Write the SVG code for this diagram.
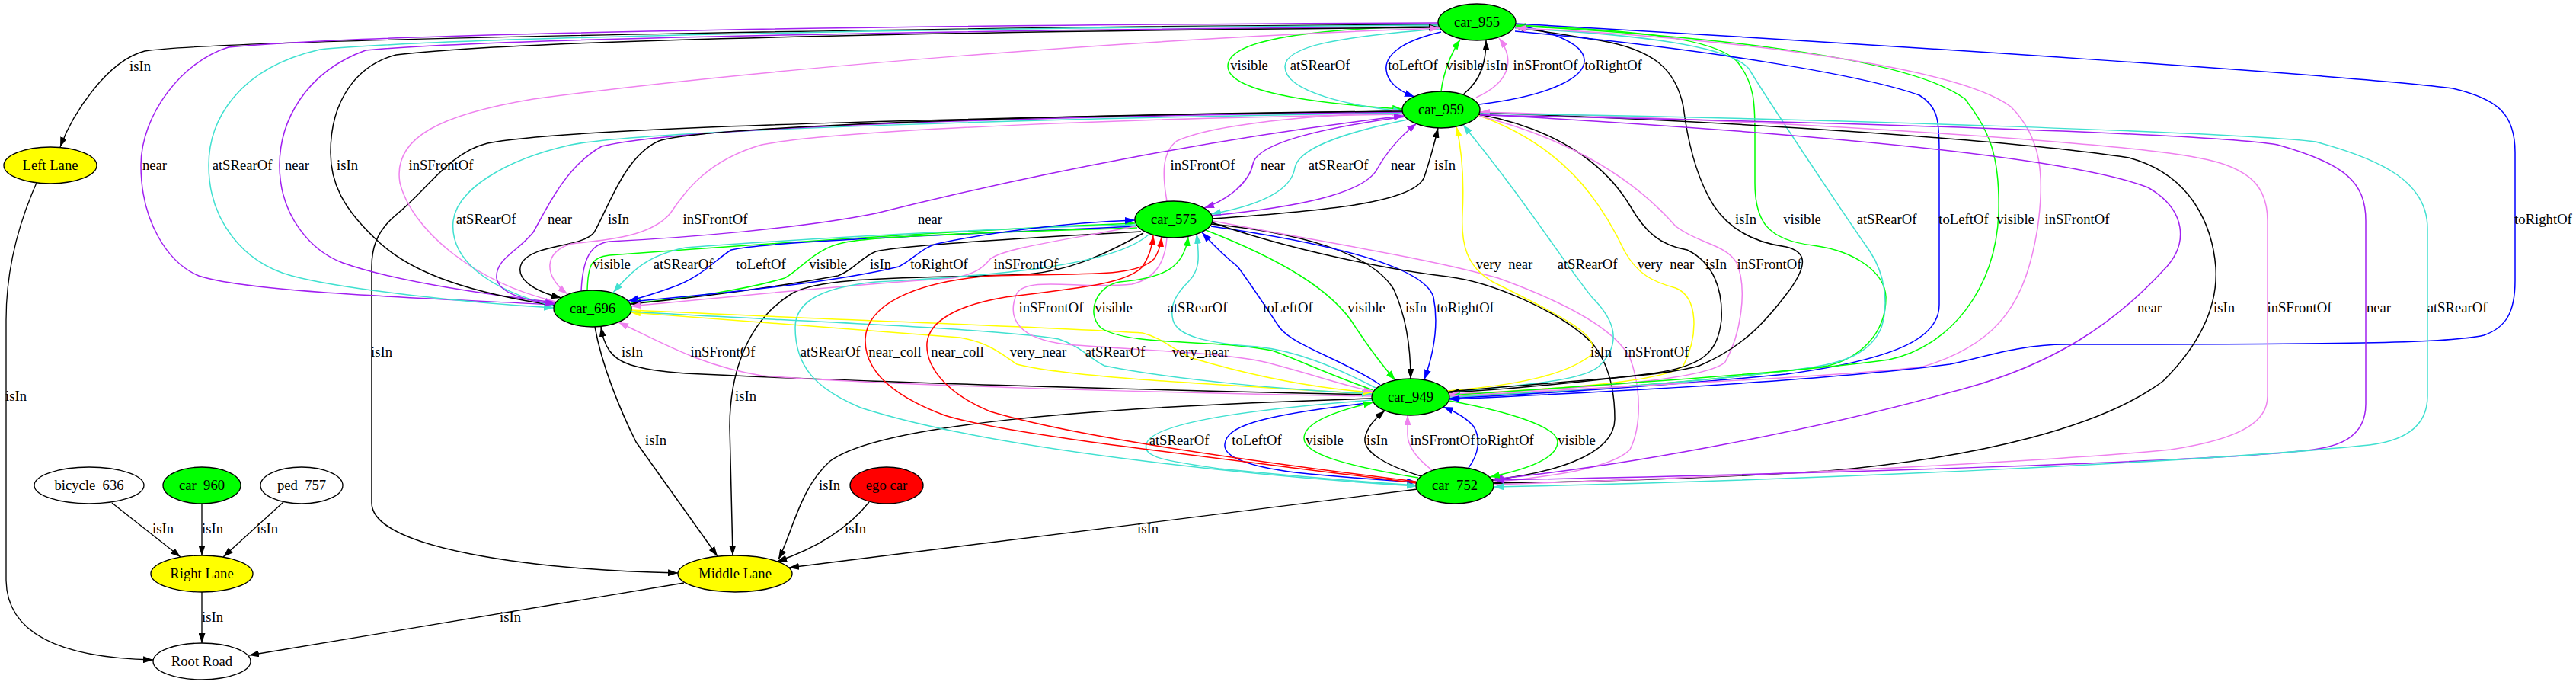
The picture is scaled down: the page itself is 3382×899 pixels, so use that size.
<svg xmlns="http://www.w3.org/2000/svg" width="3382" height="899" viewBox="0 0 3382 899">
<style>
.e{fill:none;stroke-width:1.5}
.l{stroke-width:1.33}
.k{stroke:#000;marker-end:url(#mk)}
.g{stroke:#00ff00;marker-end:url(#mg)}
.b{stroke:#0000ff;marker-end:url(#mb)}
.t{stroke:#40e0d0;marker-end:url(#mt)}
.v{stroke:#ee82ee;marker-end:url(#mv)}
.p{stroke:#a020f0;marker-end:url(#mp)}
.y{stroke:#ffff00;marker-end:url(#my)}
.r{stroke:#ff0000;marker-end:url(#mr)}
.n{stroke:#000;stroke-width:1.33}
.tx{font-family:"Liberation Serif","Times New Roman",serif;font-size:18.67px;text-anchor:middle;fill:#000}
</style>
<defs>
<marker id="mk" viewBox="0 0 13 9" refX="13" refY="4.5" markerWidth="13" markerHeight="9" markerUnits="userSpaceOnUse" orient="auto"><path d="M0,0 L13,4.5 L0,9 z" fill="#000"/></marker>
<marker id="mg" viewBox="0 0 13 9" refX="13" refY="4.5" markerWidth="13" markerHeight="9" markerUnits="userSpaceOnUse" orient="auto"><path d="M0,0 L13,4.5 L0,9 z" fill="#00ff00"/></marker>
<marker id="mb" viewBox="0 0 13 9" refX="13" refY="4.5" markerWidth="13" markerHeight="9" markerUnits="userSpaceOnUse" orient="auto"><path d="M0,0 L13,4.5 L0,9 z" fill="#0000ff"/></marker>
<marker id="mt" viewBox="0 0 13 9" refX="13" refY="4.5" markerWidth="13" markerHeight="9" markerUnits="userSpaceOnUse" orient="auto"><path d="M0,0 L13,4.5 L0,9 z" fill="#40e0d0"/></marker>
<marker id="mv" viewBox="0 0 13 9" refX="13" refY="4.5" markerWidth="13" markerHeight="9" markerUnits="userSpaceOnUse" orient="auto"><path d="M0,0 L13,4.5 L0,9 z" fill="#ee82ee"/></marker>
<marker id="mp" viewBox="0 0 13 9" refX="13" refY="4.5" markerWidth="13" markerHeight="9" markerUnits="userSpaceOnUse" orient="auto"><path d="M0,0 L13,4.5 L0,9 z" fill="#a020f0"/></marker>
<marker id="my" viewBox="0 0 13 9" refX="13" refY="4.5" markerWidth="13" markerHeight="9" markerUnits="userSpaceOnUse" orient="auto"><path d="M0,0 L13,4.5 L0,9 z" fill="#ffff00"/></marker>
<marker id="mr" viewBox="0 0 13 9" refX="13" refY="4.5" markerWidth="13" markerHeight="9" markerUnits="userSpaceOnUse" orient="auto"><path d="M0,0 L13,4.5 L0,9 z" fill="#ff0000"/></marker>
</defs>
<rect width="3382" height="899" fill="#fff"/>
<g id="edges">
<path class="e l k" d="M48,240 Q8,330 8,420 L8,760 Q8,862 201,866"/>
<path class="e l k" d="M1888,32 C1400,34 300,50 190,67 C140,80 95,150 79,193"/>
<path class="e l k" d="M147,660 L237,731"/>
<path class="e l k" d="M265,661 L265,729"/>
<path class="e l k" d="M372,659 L293,731"/>
<path class="e l k" d="M265,777 L265,844"/>
<path class="e l k" d="M898,765 L327,860"/>
<path class="e l k" d="M1141,659 Q1100,710 1020,737"/>
<path class="e l k" d="M1861,642 L1036,745"/>
<path class="e k" d="M1801,523 C1400,535 1150,560 1090,605 C1050,640 1040,700 1022,734"/>
<path class="e k" d="M1501,306 C1440,340 1400,355 1350,360 C1200,366 1080,362 1040,385 C975,425 958,500 958,560 L962,729"/>
<path class="e k" d="M781,429 C790,480 815,540 835,580 L942,730"/>
<path class="e k" d="M1841,146 C1400,152 750,165 640,188 C590,200 560,250 520,282 C492,305 488,330 488,350 L488,660 C488,720 700,748 890,752"/>
<path class="e g" d="M1889,34 C1700,38 1612,55 1612,87 C1612,125 1760,138 1841,143"/>
<path class="e t" d="M1890,38 C1760,48 1688,60 1687,87 C1686,122 1780,140 1842,146"/>
<path class="e b" d="M1892,42 C1835,55 1818,75 1820,92 C1822,110 1838,120 1857,127"/>
<path class="e g" d="M1892,120 C1895,95 1905,70 1917,52"/>
<path class="e k" d="M1922,123 C1945,105 1951,80 1951,53"/>
<path class="e v" d="M1938,128 C1978,110 1992,82 1968,50"/>
<path class="e b" d="M1942,137 C2040,125 2082,100 2080,78 C2078,55 2030,40 1991,33"/>
<path class="e v" d="M1532,264 C1526,230 1525,200 1545,185 C1600,160 1750,150 1841,147"/>
<path class="e p" d="M1845,153 C1720,170 1650,190 1645,215 C1640,240 1612,262 1581,273"/>
<path class="e t" d="M1848,157 C1760,175 1705,195 1700,220 C1695,255 1640,272 1590,281"/>
<path class="e p" d="M1591,283 C1700,272 1790,255 1808,222 C1822,197 1842,176 1860,162"/>
<path class="e k" d="M1591,287 C1750,276 1858,265 1870,232 C1878,208 1884,185 1888,168"/>
<path class="e p" d="M1888,30 C1300,32 500,42 300,62 C240,80 185,150 185,217 C185,290 220,345 261,362 C330,385 600,393 728,400"/>
<path class="e t" d="M1888,33 C1300,36 600,48 420,65 C310,90 274,160 274,217 C274,290 320,345 383,362 C450,380 620,398 727,404"/>
<path class="e p" d="M1888,35 C1300,39 650,50 480,66 C400,95 367,160 367,217 C367,285 410,330 450,345 C520,370 650,388 729,397"/>
<path class="e k" d="M729,401 C620,385 545,360 500,320 C450,275 434,240 434,200 C434,130 470,85 520,72 C700,50 1400,40 1889,36"/>
<path class="e v" d="M730,396 C620,370 540,300 525,240 C515,180 580,150 700,130 C1000,90 1500,50 1890,37"/>
<path class="e t" d="M1842,148 C1400,155 850,170 750,190 C660,210 600,250 595,290 C590,340 640,380 728,402"/>
<path class="e p" d="M1842,147 C1400,152 900,165 790,192 C740,220 715,280 700,305 C680,330 650,340 652,365 C655,385 690,395 729,399"/>
<path class="e k" d="M1842,146 C1400,150 930,165 865,185 C820,205 800,270 780,305 C765,325 700,320 685,345 C675,365 700,382 737,391"/>
<path class="e v" d="M1842,150 C1500,155 1100,170 1000,190 C930,210 900,250 880,280 C855,310 800,315 750,320 C715,330 712,360 745,386"/>
<path class="e p" d="M763,382 C765,340 775,320 800,317 C900,312 1050,300 1150,280 C1350,230 1600,180 1843,152"/>
<path class="e g" d="M771,381 C772,350 775,338 800,335 C1000,320 1300,300 1490,293"/>
<path class="e t" d="M1491,295 C1350,298 1100,310 900,325 C850,335 830,355 805,384"/>
<path class="e b" d="M1492,297 C1200,310 1000,318 960,328 C940,340 920,365 880,378 C860,385 845,390 825,395"/>
<path class="e g" d="M1493,299 C1300,305 1150,310 1110,318 C1070,325 1050,355 1030,365 C980,380 900,392 828,398"/>
<path class="e k" d="M1498,304 C1350,312 1180,322 1150,330 C1130,338 1120,355 1100,362 C1000,380 900,392 828,399"/>
<path class="e b" d="M828,396 C950,385 1100,370 1180,350 C1200,340 1210,325 1230,320 C1300,305 1400,292 1490,289"/>
<path class="e v" d="M1491,297 C1400,315 1320,325 1300,340 C1290,352 1280,360 1250,365 C1100,375 950,390 828,402"/>
<path class="e k" d="M1801,518 C1500,512 1100,500 900,490 C830,485 810,475 800,460 C793,450 791,440 789,429"/>
<path class="e v" d="M1801,520 C1500,515 1150,505 1000,493 C920,480 870,450 812,423"/>
<path class="e y" d="M1801,517 C1600,505 1400,495 1335,478 C1315,465 1300,450 1260,443 C1100,430 950,418 828,410"/>
<path class="e t" d="M829,409 C1000,420 1300,430 1390,445 C1420,455 1430,470 1450,480 C1550,500 1700,512 1801,517"/>
<path class="e y" d="M829,407 C1100,420 1400,430 1500,437 C1530,445 1540,460 1565,470 C1650,495 1730,510 1802,515"/>
<path class="e v" d="M1532,312 C1530,340 1520,365 1486,373 C1420,380 1350,362 1335,385 C1320,420 1340,445 1400,452 C1500,460 1600,462 1660,475 C1720,490 1760,505 1803,514"/>
<path class="e g" d="M1803,512 C1740,490 1700,470 1670,460 C1600,445 1480,455 1445,430 C1425,410 1440,375 1470,370 C1530,365 1555,350 1560,310"/>
<path class="e t" d="M1806,509 C1750,480 1700,460 1650,455 C1580,450 1545,440 1540,420 C1535,400 1545,385 1560,370 C1575,355 1575,340 1571,307"/>
<path class="e b" d="M1812,505 C1760,470 1700,455 1680,430 C1660,400 1640,370 1625,350 C1600,330 1590,318 1578,305"/>
<path class="e g" d="M1583,302 C1680,340 1750,380 1780,430 C1800,460 1815,480 1832,499"/>
<path class="e k" d="M1590,294 C1700,305 1800,330 1830,380 C1848,420 1852,460 1852,497"/>
<path class="e b" d="M1590,297 C1750,320 1870,350 1882,390 C1890,430 1880,470 1870,498"/>
<path class="e k" d="M1591,292 C1700,330 1830,355 1900,363 C1960,370 2050,410 2090,450 C2115,480 2120,520 2120,550 C2120,600 2030,622 1958,630"/>
<path class="e v" d="M1592,290 C1750,320 1880,340 1967,365 C2050,395 2120,430 2140,470 C2155,510 2155,560 2140,590 C2110,620 2000,628 1960,633"/>
<path class="e y" d="M1900,513 C2000,505 2060,490 2090,465 C2100,440 2060,420 1960,370 C1925,350 1918,320 1920,280 C1922,240 1920,200 1912,166"/>
<path class="e t" d="M1901,515 C2000,505 2080,500 2100,480 C2130,450 2120,420 2090,390 C2050,340 2000,260 1921,164"/>
<path class="e y" d="M1940,151 C2050,190 2100,260 2133,330 C2150,360 2170,370 2200,378 C2230,390 2230,440 2210,480 C2180,505 2000,512 1902,518"/>
<path class="e k" d="M1941,150 C2050,170 2110,220 2140,270 C2160,305 2180,322 2215,328 C2250,345 2262,380 2260,420 C2255,460 2240,480 2170,490 C2050,505 1960,512 1903,515"/>
<path class="e v" d="M1942,152 C2070,185 2150,240 2200,297 C2230,320 2265,320 2280,345 C2295,380 2285,440 2265,475 C2240,500 2050,512 1903,517"/>
<path class="e k" d="M1903,514 C2050,500 2180,495 2231,480 C2290,455 2320,420 2350,380 C2375,345 2370,330 2345,324 C2300,318 2270,300 2250,270 C2225,230 2215,180 2210,140 C2200,90 2170,65 2100,53 C2050,45 2020,40 1989,36"/>
<path class="e g" d="M1989,33 C2150,40 2250,50 2280,80 C2305,110 2304,140 2304,180 L2304,240 C2304,290 2320,315 2380,322 C2440,330 2475,360 2476,390 C2476,440 2440,470 2400,480 C2250,500 2050,515 1904,520"/>
<path class="e t" d="M1989,37 C2150,45 2270,60 2296,90 C2320,130 2420,280 2455,330 C2475,360 2480,400 2470,430 C2455,465 2420,475 2380,482 C2250,500 2050,515 1904,521"/>
<path class="e b" d="M1989,41 C2250,65 2450,100 2520,125 C2545,140 2546,160 2546,200 L2546,400 C2546,440 2500,470 2345,491 C2200,505 2050,515 1903,523"/>
<path class="e g" d="M1903,519 C2100,505 2350,490 2480,472 C2560,455 2620,380 2624,280 C2626,200 2610,170 2580,130 C2500,70 2200,45 1990,34"/>
<path class="e v" d="M1903,520 C2150,506 2450,492 2525,481 C2630,450 2660,390 2675,300 C2685,230 2680,180 2640,140 C2560,80 2200,45 1990,37"/>
<path class="e b" d="M1990,31 C2500,60 3100,100 3220,116 C3280,130 3302,150 3302,200 L3302,368 C3302,410 3290,430 3261,440 C3220,450 3100,452 2713,452 C2650,452 2600,470 2560,478 C2400,500 2100,515 1903,524"/>
<path class="e p" d="M1943,150 C2300,170 2700,200 2820,246 C2870,275 2875,320 2840,355 C2780,420 2700,480 2560,515 C2400,560 2150,610 1960,629"/>
<path class="e k" d="M1943,148 C2300,160 2650,185 2795,207 C2880,230 2905,300 2909,351 C2912,400 2890,450 2840,500 C2760,560 2600,600 2400,618 C2200,630 2050,633 1960,634"/>
<path class="e v" d="M1961,636 C2300,625 2700,605 2850,590 C2950,575 2977,550 2977,520 L2977,290 C2977,250 2960,220 2885,207 C2800,190 2400,160 1943,147"/>
<path class="e p" d="M1943,151 C2400,160 2900,175 2990,190 C3080,215 3106,240 3106,290 L3106,530 C3106,575 3070,588 3020,592 C2900,605 2400,622 1961,630"/>
<path class="e t" d="M1943,149 C2400,155 2950,175 3040,186 C3130,210 3187,240 3187,300 L3187,520 C3187,570 3140,582 3100,585 C2900,605 2400,630 1961,639"/>
<path class="e t" d="M1802,525 C1600,540 1510,560 1505,583 C1500,600 1530,605 1600,615 C1700,625 1800,633 1860,637"/>
<path class="e b" d="M1803,528 C1650,545 1610,560 1608,583 C1606,600 1640,612 1700,620 C1780,628 1820,630 1860,633"/>
<path class="e g" d="M1862,627 C1760,610 1712,595 1712,575 C1712,555 1750,540 1803,528"/>
<path class="e k" d="M1866,625 C1810,608 1790,590 1792,575 C1795,560 1805,550 1818,539"/>
<path class="e v" d="M1880,617 C1858,600 1848,585 1848,570 C1848,562 1848,555 1848,545"/>
<path class="e b" d="M1928,614 C1942,595 1944,575 1935,560 C1925,548 1910,540 1895,534"/>
<path class="e g" d="M1903,526 C1980,540 2045,560 2045,580 C2045,600 2010,615 1956,626"/>
<path class="e r" d="M1859,634 C1550,595 1320,570 1240,545 C1160,515 1135,480 1136,445 C1138,400 1200,370 1300,362 C1420,358 1490,365 1515,340 C1522,330 1524,320 1525,311"/>
<path class="e r" d="M1859,632 C1600,600 1400,570 1300,540 C1240,515 1215,480 1217,450 C1220,420 1260,400 1320,390 C1420,378 1480,372 1500,350 C1510,335 1513,322 1514,309"/>
<path class="e t" d="M1508,308 C1460,350 1300,362 1150,370 C1070,378 1044,400 1044,430 C1044,480 1070,510 1130,535 C1300,590 1650,625 1860,638"/>
</g>
<g id="edge-labels" class="tx">
<text x="21" y="526">isIn</text>
<text x="184" y="93">isIn</text>
<text x="214" y="700">isIn</text>
<text x="279" y="700">isIn</text>
<text x="351" y="700">isIn</text>
<text x="279" y="816">isIn</text>
<text x="670" y="816">isIn</text>
<text x="1123" y="700">isIn</text>
<text x="1507" y="700">isIn</text>
<text x="1089" y="643">isIn</text>
<text x="979" y="526">isIn</text>
<text x="861" y="584">isIn</text>
<text x="501" y="468">isIn</text>
<text x="1640" y="92">visible</text>
<text x="1733" y="92">atSRearOf</text>
<text x="1855" y="92">toLeftOf</text>
<text x="1923" y="92">visible</text>
<text x="1965" y="92">isIn</text>
<text x="2029" y="92">inSFrontOf</text>
<text x="2118" y="92">toRightOf</text>
<text x="1579" y="223">inSFrontOf</text>
<text x="1671" y="223">near</text>
<text x="1757" y="223">atSRearOf</text>
<text x="1842" y="223">near</text>
<text x="1897" y="223">isIn</text>
<text x="203" y="223">near</text>
<text x="318" y="223">atSRearOf</text>
<text x="390" y="223">near</text>
<text x="456" y="223">isIn</text>
<text x="579" y="223">inSFrontOf</text>
<text x="638" y="294">atSRearOf</text>
<text x="735" y="294">near</text>
<text x="812" y="294">isIn</text>
<text x="939" y="294">inSFrontOf</text>
<text x="1221" y="294">near</text>
<text x="803" y="353">visible</text>
<text x="897" y="353">atSRearOf</text>
<text x="999" y="353">toLeftOf</text>
<text x="1087" y="353">visible</text>
<text x="1156" y="353">isIn</text>
<text x="1233" y="353">toRightOf</text>
<text x="1347" y="353">inSFrontOf</text>
<text x="830" y="468">isIn</text>
<text x="949" y="468">inSFrontOf</text>
<text x="1090" y="468">atSRearOf</text>
<text x="1175" y="468">near_coll</text>
<text x="1257" y="468">near_coll</text>
<text x="1363" y="468">very_near</text>
<text x="1464" y="468">atSRearOf</text>
<text x="1576" y="468">very_near</text>
<text x="1380" y="410">inSFrontOf</text>
<text x="1462" y="410">visible</text>
<text x="1572" y="410">atSRearOf</text>
<text x="1691" y="410">toLeftOf</text>
<text x="1794" y="410">visible</text>
<text x="1859" y="410">isIn</text>
<text x="1924" y="410">toRightOf</text>
<text x="2102" y="468">isIn</text>
<text x="2175" y="468">inSFrontOf</text>
<text x="1975" y="353">very_near</text>
<text x="2084" y="353">atSRearOf</text>
<text x="2187" y="353">very_near</text>
<text x="2253" y="353">isIn</text>
<text x="2323" y="353">inSFrontOf</text>
<text x="2292" y="294">isIn</text>
<text x="2366" y="294">visible</text>
<text x="2477" y="294">atSRearOf</text>
<text x="2578" y="294">toLeftOf</text>
<text x="2646" y="294">visible</text>
<text x="2727" y="294">inSFrontOf</text>
<text x="3339" y="294">toRightOf</text>
<text x="2822" y="410">near</text>
<text x="2920" y="410">isIn</text>
<text x="3019" y="410">inSFrontOf</text>
<text x="3123" y="410">near</text>
<text x="3226" y="410">atSRearOf</text>
<text x="1548" y="584">atSRearOf</text>
<text x="1650" y="584">toLeftOf</text>
<text x="1739" y="584">visible</text>
<text x="1808" y="584">isIn</text>
<text x="1894" y="584">inSFrontOf</text>
<text x="1976" y="584">toRightOf</text>
<text x="2070" y="584">visible</text>
</g>
<g id="node-car_955"><ellipse class="n" cx="1939" cy="29" rx="51" ry="24" fill="#00ff00"/><text class="tx" x="1939" y="35">car_955</text></g>
<g id="node-car_959"><ellipse class="n" cx="1892" cy="144" rx="51" ry="24" fill="#00ff00"/><text class="tx" x="1892" y="150">car_959</text></g>
<g id="node-car_575"><ellipse class="n" cx="1541" cy="288" rx="51" ry="24" fill="#00ff00"/><text class="tx" x="1541" y="294">car_575</text></g>
<g id="node-car_696"><ellipse class="n" cx="778" cy="405" rx="51" ry="24" fill="#00ff00"/><text class="tx" x="778" y="411">car_696</text></g>
<g id="node-car_949"><ellipse class="n" cx="1852" cy="521" rx="51" ry="24" fill="#00ff00"/><text class="tx" x="1852" y="527">car_949</text></g>
<g id="node-car_752"><ellipse class="n" cx="1910" cy="637" rx="51" ry="24" fill="#00ff00"/><text class="tx" x="1910" y="643">car_752</text></g>
<g id="node-left_lane"><ellipse class="n" cx="66" cy="217" rx="61" ry="24" fill="#ffff00"/><text class="tx" x="66" y="223">Left Lane</text></g>
<g id="node-middle_lane"><ellipse class="n" cx="965" cy="753" rx="75" ry="24" fill="#ffff00"/><text class="tx" x="965" y="759">Middle Lane</text></g>
<g id="node-right_lane"><ellipse class="n" cx="265" cy="753" rx="67" ry="24" fill="#ffff00"/><text class="tx" x="265" y="759">Right Lane</text></g>
<g id="node-root_road"><ellipse class="n" cx="265" cy="868" rx="64" ry="24" fill="#fff"/><text class="tx" x="265" y="874">Root Road</text></g>
<g id="node-bicycle_636"><ellipse class="n" cx="117" cy="637" rx="72" ry="24" fill="#fff"/><text class="tx" x="117" y="643">bicycle_636</text></g>
<g id="node-car_960"><ellipse class="n" cx="265" cy="637" rx="51" ry="24" fill="#00ff00"/><text class="tx" x="265" y="643">car_960</text></g>
<g id="node-ped_757"><ellipse class="n" cx="396" cy="637" rx="54" ry="24" fill="#fff"/><text class="tx" x="396" y="643">ped_757</text></g>
<g id="node-ego_car"><ellipse class="n" cx="1164" cy="637" rx="48" ry="24" fill="#ff0000"/><text class="tx" x="1164" y="643">ego car</text></g>
</svg>
